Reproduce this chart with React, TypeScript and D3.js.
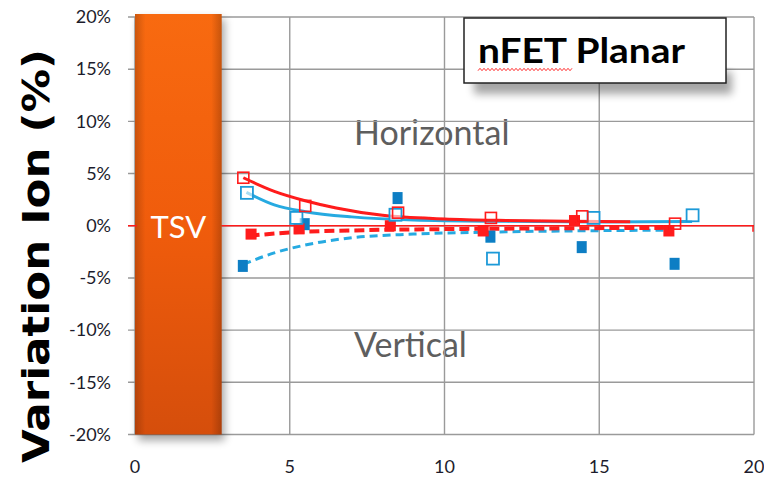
import React from "react";
import * as d3 from "d3";

// Axis ticks
const xTicks = [0, 5, 10, 15, 20];
const yTicks = [-20, -15, -10, -5, 0, 5, 10, 15, 20];

// TSV block extent along x (µm)
const tsvExtent = [0, 2.8];

// Measured points [distance, variation %]
const redOpen: [number, number][] = [
  [3.5, 4.6], [5.5, 1.9], [8.5, 1.25], [11.5, 0.75], [14.45, 0.9], [17.45, 0.2],
];
const redFilled: [number, number][] = [
  [3.75, -0.8], [5.3, -0.3], [8.25, 0.0], [11.25, -0.5], [14.2, 0.5], [17.25, -0.5],
];
const blueFilled: [number, number][] = [
  [3.5, -3.8], [5.5, 0.2], [8.5, 2.7], [11.5, -1.0], [14.45, -2.0], [17.45, -3.6],
];
const blueOpen: [number, number][] = [
  [3.6, 3.2], [5.2, 0.8], [8.4, 1.1], [11.55, -3.1], [14.8, 0.8], [18.0, 1.05],
];

// Trend curves
const redTrend: [number, number][] = [
  [3.5, 4.6], [4.5, 3.3], [5.5, 2.4], [6.5, 1.7], [8, 1.0], [10, 0.65], [12, 0.5], [14, 0.42], [16, 0.38],
];
const blueTrend: [number, number][] = [
  [3.6, 3.2], [4.5, 2.0], [5.5, 1.35], [7, 0.85], [9, 0.55], [12, 0.42], [15, 0.36], [18, 0.4],
];
const redDashTrend: [number, number][] = [
  [3.7, -0.95], [5, -0.65], [7, -0.45], [10, -0.32], [13, -0.26], [17.3, -0.2],
];
const blueDashTrend: [number, number][] = [
  [3.5, -3.7], [4.5, -2.6], [5.5, -1.85], [7, -1.15], [9, -0.8], [12, -0.58], [15, -0.47], [17.2, -0.42],
];

const W = 764;
const H = 480;
const font = "Lato, 'Open Sans', sans-serif";

export default function App() {
  const x = d3.scaleLinear().domain([0, 20]).range([135, 754]);
  const y = d3.scaleLinear().domain([-20, 20]).range([434.5, 17]);

  const line = d3
    .line<[number, number]>()
    .x((d) => x(d[0]))
    .y((d) => y(d[1]))
    .curve(d3.curveMonotoneX);

  const red = "#ff1a1a";
  const blueLine = "#27aae1";
  const blueFill = "#0a7ec4";
  const grid = "#9a9a9a";
  const ms = 11;

  // spell-check squiggle under the title word
  const squiggle = (() => {
    const p: string[] = [];
    const x0 = 478, x1 = 573, yy = 69.5;
    let k = 0;
    for (let xx = x0; xx <= x1; xx += 2, k++) {
      p.push(`${k === 0 ? "M" : "L"}${xx},${yy + (k % 2 === 0 ? 1.2 : -1.2)}`);
    }
    return p.join(" ");
  })();

  return (
    <svg
      width={W}
      height={H}
      style={{ position: "absolute", left: 0, top: 0, background: "#fff" }}
      fontFamily={font}
    >
      <defs>
        <linearGradient id="tsvV" x1="0" y1="0" x2="0" y2="1">
          <stop offset="0" stopColor="#f86a10" />
          <stop offset="0.5" stopColor="#f05c0c" />
          <stop offset="1" stopColor="#d54e0c" />
        </linearGradient>
        <linearGradient id="tsvH" x1="0" y1="0" x2="1" y2="0">
          <stop offset="0" stopColor="#000" stopOpacity="0.18" />
          <stop offset="0.12" stopColor="#000" stopOpacity="0" />
          <stop offset="0.88" stopColor="#000" stopOpacity="0" />
          <stop offset="1" stopColor="#000" stopOpacity="0.2" />
        </linearGradient>
        <filter id="soft" x="-20%" y="-20%" width="140%" height="160%">
          <feGaussianBlur stdDeviation="4" />
        </filter>
        <filter id="blur1" x="-5%" y="-5%" width="110%" height="110%">
          <feGaussianBlur stdDeviation="0.5" />
        </filter>
      </defs>

      {/* region labels (under the grid) */}
      <text x={354} y={145} fontSize={34} fill="#5e5e5e">
        Horizontal
      </text>
      <text x={354} y={357} fontSize={34} fill="#5e5e5e">
        Vertical
      </text>

      {/* horizontal grid */}
      {yTicks.map((t) => (
        <line key={"h" + t} x1={128} x2={x(20)} y1={y(t)} y2={y(t)} stroke={grid} strokeWidth={1.4} />
      ))}
      {/* vertical grid */}
      {xTicks.map((t) => (
        <line key={"v" + t} x1={x(t)} x2={x(t)} y1={y(20)} y2={y(-20)} stroke={grid} strokeWidth={1.4} />
      ))}

      {/* y tick labels */}
      {yTicks.map((t) => (
        <text
          key={"yl" + t}
          x={111}
          y={y(t)}
          dy="0.35em"
          textAnchor="end"
          fontSize={18}
          fill="#1c1c2c"
        >
          {`${t}%`}
        </text>
      ))}
      {/* x tick labels */}
      {xTicks.map((t) => (
        <text key={"xl" + t} x={x(t)} y={467} dy="0.35em" textAnchor="middle" fontSize={18} fill="#1c1c2c">
          {t}
        </text>
      ))}

      {/* axis title */}
      <text
        transform={`translate(49,256) rotate(-90)`}
        textAnchor="middle"
        fontSize={38}
        fontWeight={700}
        fill="#000"
        fontFamily="'DejaVu Sans', 'Liberation Sans', sans-serif"
        textLength={414}
        lengthAdjust="spacingAndGlyphs"
      >
        Variation Ion (%)
      </text>

      {/* TSV block */}
      <rect
        x={x(tsvExtent[0]) + 3}
        y={y(20) + 2}
        width={x(tsvExtent[1]) - x(tsvExtent[0])}
        height={y(-20) - y(20) + 4}
        fill="#000"
        opacity={0.35}
        filter="url(#soft)"
      />
      <rect
        x={x(tsvExtent[0])}
        y={y(20) - 3}
        width={x(tsvExtent[1]) - x(tsvExtent[0])}
        height={y(-20) - y(20) + 3}
        fill="url(#tsvV)"
      />
      <rect
        x={x(tsvExtent[0])}
        y={y(20) - 3}
        width={x(tsvExtent[1]) - x(tsvExtent[0])}
        height={y(-20) - y(20) + 3}
        fill="url(#tsvH)"
      />
      <text
        x={(x(tsvExtent[0]) + x(tsvExtent[1])) / 2}
        y={y(0) + 12}
        textAnchor="middle"
        fontSize={31}
        fill="#fff"
      >
        TSV
      </text>

      {/* zero reference line */}
      <line x1={x(tsvExtent[1])} x2={x(20)} y1={y(0)} y2={y(0)} stroke={red} strokeWidth={1.5} />
      <line x1={x(20) - 1} x2={x(20) - 1} y1={y(0)} y2={y(0) + 6} stroke={red} strokeWidth={1.5} />
      <line x1={128} x2={x(0) + 2} y1={y(0)} y2={y(0)} stroke={red} strokeWidth={1.5} />

      {/* trend curves */}
      <g filter="url(#blur1)">
        <path d={line(blueDashTrend) || ""} fill="none" stroke={blueLine} strokeWidth={3} strokeDasharray="8,5" />
        <path d={line(redDashTrend) || ""} fill="none" stroke={red} strokeWidth={4} strokeDasharray="10,5" />
        <path d={line(blueTrend) || ""} fill="none" stroke={blueLine} strokeWidth={3} />
        <path d={line(redTrend) || ""} fill="none" stroke={red} strokeWidth={3} />
      </g>

      {/* markers */}
      <g filter="url(#blur1)">
        {blueFilled.map((d, i) => (
          <rect key={"bf" + i} x={x(d[0]) - ms / 2} y={y(d[1]) - ms / 2} width={ms - 1} height={ms + 1} fill={blueFill} />
        ))}
        {redFilled.map((d, i) => (
          <rect key={"rf" + i} x={x(d[0]) - ms / 2} y={y(d[1]) - ms / 2} width={ms} height={ms} fill={red} />
        ))}
        {blueOpen.map((d, i) => (
          <rect
            key={"bo" + i}
            x={x(d[0]) - ms / 2}
            y={y(d[1]) - ms / 2}
            width={ms + 1}
            height={ms + 1}
            fill="#fff"
            fillOpacity={0.6}
            stroke="#1f9ad8"
            strokeWidth={1.8}
          />
        ))}
        {redOpen.map((d, i) => (
          <rect
            key={"ro" + i}
            x={x(d[0]) - ms / 2}
            y={y(d[1]) - ms / 2}
            width={ms}
            height={ms}
            fill="none"
            stroke={red}
            strokeWidth={1.6}
          />
        ))}
      </g>

      {/* title box */}
      <rect x={474} y={72} width={258} height={22} fill="#000" opacity={0.35} filter="url(#soft)" />
      <rect x={464} y={18} width={262} height={65} fill="#fff" stroke="#222" strokeWidth={1.5} />
      <text
        x={478}
        y={63}
        fontSize={34}
        fontWeight={700}
        fill="#000"
        textLength={207}
        lengthAdjust="spacingAndGlyphs"
      >
        nFET Planar
      </text>
      <path d={squiggle} fill="none" stroke="#ff3030" strokeWidth={1} />
    </svg>
  );
}
